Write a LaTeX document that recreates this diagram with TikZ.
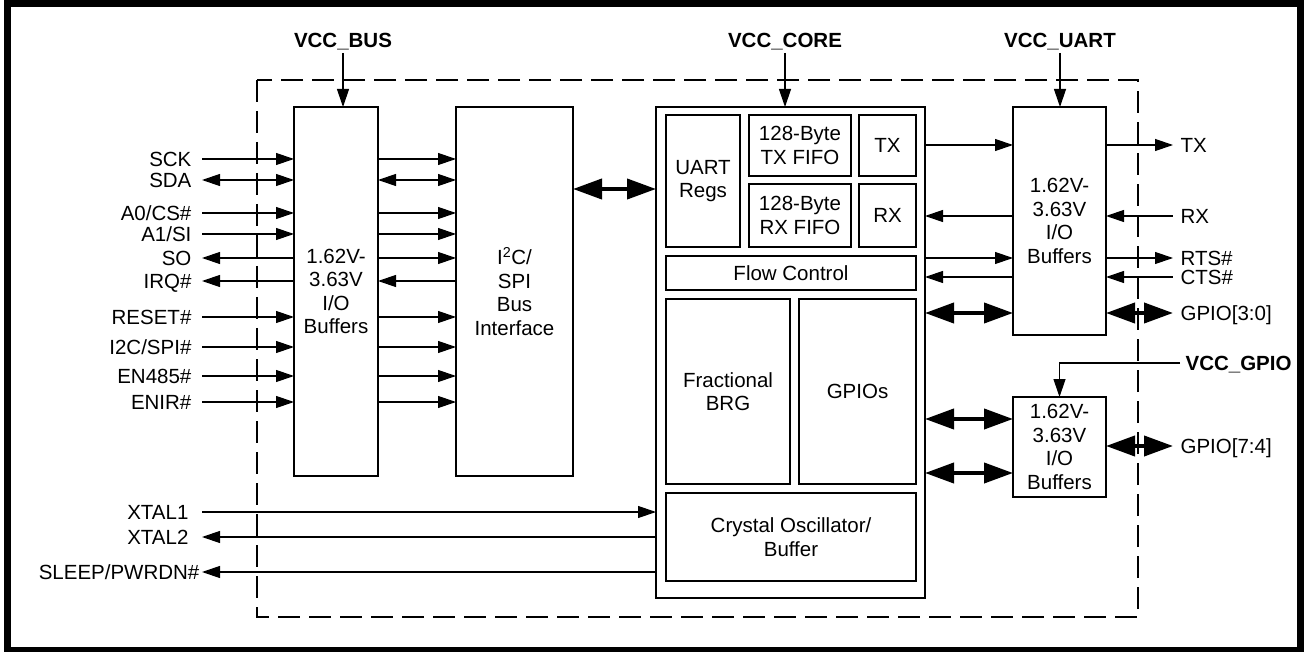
\documentclass[tikz,border=0pt]{standalone}
\usepackage{fontspec}
\setmainfont{Liberation Sans}
\usetikzlibrary{positioning}
\usetikzlibrary{arrows.meta}
\newcommand{\blkfont}{\fontsize{20.5}{23.5}\selectfont}

\begin{document}
\begin{tikzpicture}[
			x=1pt, y=-1pt, line width=1.2pt,
			>={Triangle[length=18pt,width=12pt]},
			blk/.style={draw, inner sep=0pt, outer sep=0pt, align=center, font=\blkfont},
			pinlbl/.style={inner sep=0pt, font=\blkfont, text height=14.7pt, text depth=0pt},
			vcc/.style={inner sep=5pt, font=\blkfont\bfseries, text height=14.7pt, text depth=0pt},
			bus/.style={line width=4pt, >={Triangle[length=29pt,width=20pt]}, <->}
		]
			\useasboundingbox (0,0) rectangle (1304,652);
			\draw[line width=7pt] (7.5,3.5) rectangle (1300.5,650.5);
			\draw[line width=2.2pt, dash pattern=on 22pt off 9pt] (257,80) rectangle (1138,617);

			\node[blk, minimum width=84pt, minimum height=369pt] (buf) at (336,291.5) {1.62V-\\3.63V\\I/O\\Buffers};
			\node[blk, minimum width=117pt, minimum height=369pt] (bif) at (514.5,291.5) {I\textsuperscript{2}C/\\SPI\\Bus\\Interface};
			\node[blk, minimum width=269pt, minimum height=491pt] (core) at (790.5,352.5) {};
			\node[blk, minimum width=74pt, minimum height=132pt] (regs) at (703,181) {UART\\Regs};
			\node[blk, minimum width=102pt, minimum height=61pt] (txf) at (800,145.5) {128-Byte\\TX FIFO};
			\node[blk, minimum width=102pt, minimum height=63pt, below=8pt of txf] (rxf) {128-Byte\\RX FIFO};
			\node[blk, minimum width=57pt, minimum height=61pt, right=8pt of txf] (txb) {TX};
			\node[blk, minimum width=57pt, minimum height=63pt, right=8pt of rxf] (rxb) {RX};
			\node[blk, minimum width=250pt, minimum height=34pt] (flow) at (791,273) {Flow Control};
			\node[blk, minimum width=124pt, minimum height=185pt] (brg) at (728,391.5) {Fractional\\BRG};
			\node[blk, minimum width=117pt, minimum height=185pt, right=9pt of brg] (gpios) {GPIOs};
			\node[blk, minimum width=250pt, minimum height=88pt] (xosc) at (791,537) {Crystal Oscillator/\\Buffer};
			\node[blk, minimum width=93pt, minimum height=228pt] (ubuf) at (1059.5,221) {1.62V-\\3.63V\\I/O\\Buffers};
			\node[blk, minimum width=93pt, minimum height=100pt] (gbuf) at (1059.5,447) {1.62V-\\3.63V\\I/O\\Buffers};

			\node[vcc] (vbus) at (343,40) {VCC\_BUS};
			\node[vcc] (vcore) at (785,40) {VCC\_CORE};
			\node[vcc] (vuart) at (1060,40) {VCC\_UART};
			\node[vcc, anchor=west] (vgpio) at (1180,363) {VCC\_GPIO};
			\draw[->] (vbus) -- (vbus |- buf.north);
			\draw[->] (vcore) -- (vcore |- core.north);
			\draw[->] (vuart) -- (vuart |- ubuf.north);
			\draw[->] (vgpio) -| (gbuf);

			\foreach \n/\txt/\y in {sck/SCK/159, sda/SDA/180, acs/{A0/CS\#}/213, asi/{A1/SI}/234, so/SO/258,
				irq/{IRQ\#}/281, rst/{RESET\#}/317, mode/{I2C/SPI\#}/347, en485/{EN485\#}/376, enir/{ENIR\#}/402}
				\node[pinlbl, anchor=east] (\n) at (192,\y) {\txt};
			\foreach \n/\txt/\y in {txo/TX/145, rxo/RX/216, rtso/{RTS\#}/258, ctso/{CTS\#}/277,
				gpa/{GPIO[3:0]}/313, gpb/{GPIO[7:4]}/446}
				\node[pinlbl, anchor=west] (\n) at (1180,\y) {\txt};
			\node[pinlbl, anchor=east] (xt1) at (189,512) {XTAL1};
			\node[pinlbl, anchor=east] (xt2) at (189,537) {XTAL2};
			\node[pinlbl, anchor=east] (sleep) at (200,572) {SLEEP/PWRDN\#};

			\foreach \n in {sck,acs,asi,rst,mode,en485,enir}
				\draw[->] ([xshift=10pt]\n.east) -- (\n -| buf.west);
			\draw[<->] ([xshift=10pt]sda.east) -- (sda -| buf.west);
			\foreach \n in {so,irq}
				\draw[<-] ([xshift=10pt]\n.east) -- (\n -| buf.west);

			\foreach \n in {sck,acs,asi,so,rst,mode,en485,enir}
				\draw[->] (\n -| buf.east) -- (\n -| bif.west);
			\draw[<->] (sda -| buf.east) -- (sda -| bif.west);
			\draw[<-] (irq -| buf.east) -- (irq -| bif.west);
			\draw[bus] (bif.east |- 0,189) -- (core.west |- 0,189);

			\foreach \n in {txo,rtso}
				\draw[->] (core.east |- \n) -- (ubuf.west |- \n);
			\foreach \n in {rxo,ctso}
				\draw[<-] (core.east |- \n) -- (ubuf.west |- \n);
			\draw[bus] (core.east |- gpa) -- (ubuf.west |- gpa);
			\foreach \n in {txo,rtso}
				\draw[->] (ubuf.east |- \n) -- ([xshift=-7pt]\n.west);
			\foreach \n in {rxo,ctso}
				\draw[<-] (ubuf.east |- \n) -- ([xshift=-7pt]\n.west);
			\draw[bus] (ubuf.east |- gpa) -- ([xshift=-7pt]gpa.west);

			\draw[bus] ([yshift=28pt]gbuf.west -| core.east) -- ([yshift=28pt]gbuf.west);
			\draw[bus] ([yshift=-26pt]gbuf.west -| core.east) -- ([yshift=-26pt]gbuf.west);
			\draw[bus] (gbuf.east |- gpb) -- ([xshift=-7pt]gpb.west);

			\draw[->] ([xshift=13pt]xt1.east) -- (xt1 -| core.west);
			\draw[<-] ([xshift=13pt]xt2.east) -- (xt2 -| core.west);
			\draw[<-] ([xshift=2pt]sleep.east) -- (sleep -| core.west);
		\end{tikzpicture}
\end{document}
